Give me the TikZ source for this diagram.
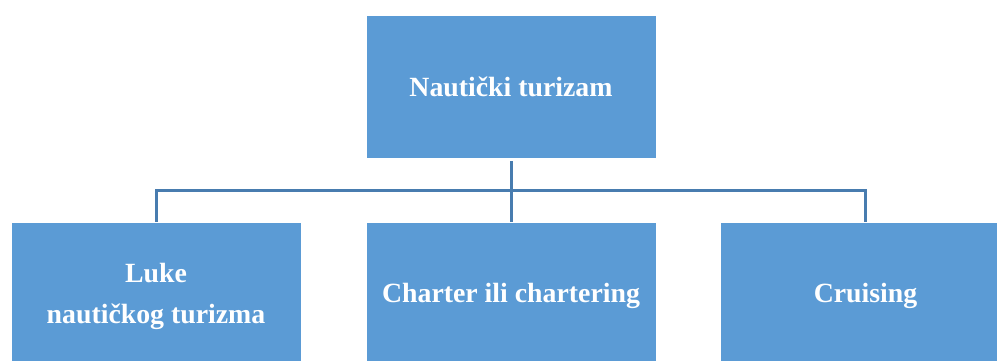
\documentclass[tikz,border=0pt]{standalone}
\usepackage{fontspec}
\setmainfont{Liberation Serif}
\definecolor{boxblue}{RGB}{91,155,213}
\definecolor{lineblue}{RGB}{72,124,175}
\tikzset{
  x=1pt, y=-1pt,
  orgbox/.style={fill=boxblue, draw=white, line width=0.8pt, minimum width=290pt, minimum height=143pt,
    text=white, font=\fontsize{27.8}{41}\selectfont\bfseries, align=center, inner sep=0pt},
  orgtext/.style={text=white, font=\fontsize{27.8}{41}\selectfont\bfseries, align=center, inner sep=0pt},
  orgline/.style={draw=lineblue, line width=3pt}
}
\begin{document}
\begin{tikzpicture}
\useasboundingbox (0,0) rectangle (997,360);
\clip (0,0) rectangle (997,360);
\fill[white] (0,0) rectangle (997,360);
\node[orgbox, minimum height=143pt] (top) at (511,86.5) {Nautički turizam};
\node[orgbox, minimum height=160pt] (luke) at (156,302) {};
\node[orgbox, minimum height=160pt] (charter) at (511,302) {};
\node[orgbox, minimum height=160pt] (cruise) at (865.5,302) {};
\node[orgtext] (lukeT) at (156,296) {Luke\\nautičkog turizma};
\node[orgtext] (charterT) at (511,296) {Charter ili chartering};
\node[orgtext] (cruiseT) at (865.5,296) {Cruising};
\coordinate (hub) at (511,190.5);
\draw[orgline] ([yshift=-3pt]top.south) -- (hub);
\draw[orgline] (hub) -- (charter.north);
\draw[orgline] (luke.north) -- (luke.north |- hub) -- (cruise.north |- hub) -- (cruise.north);
\end{tikzpicture}
\end{document}
